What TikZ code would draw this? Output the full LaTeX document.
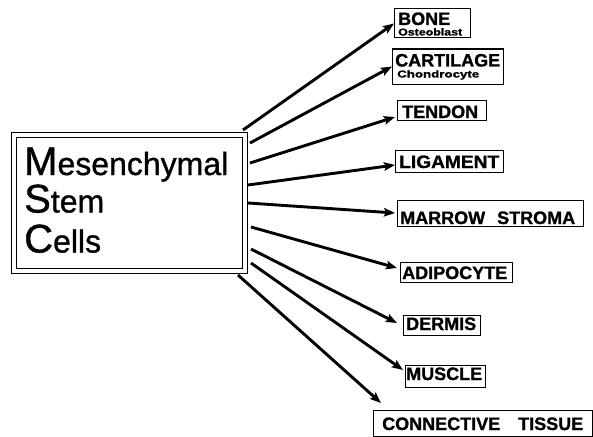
\documentclass[tikz,border=0pt]{standalone}
\usepackage{fontspec}
\usepackage{graphicx}
\setmainfont{Liberation Sans}
\newfontfamily\heavyfont[BoldFeatures={FakeBold=1.2}]{Liberation Sans}
\newfontfamily\mscfont[FakeBold=1]{Liberation Sans}
\usetikzlibrary{arrows.meta}
\newcommand\mscbig{\fontsize{40}{40}\selectfont}
\newcommand\mscsmall{\fontsize{32}{32}\selectfont}
\newcommand\hstretch[2]{\resizebox{#1}{\height}{#2}}
\begin{document}
\begin{tikzpicture}[x=1pt,y=-1pt,
  arr/.style={line width=2.9pt,-{Stealth[length=11pt,width=8.5pt,inset=2pt]}},
  lblbox/.style={draw,line width=1pt,rectangle,inner sep=0pt,outer sep=0pt},
  lbltxt/.style={inner sep=0pt,anchor=base west,font=\heavyfont\bfseries\fontsize{18}{18}\selectfont},
  subtxt/.style={inner sep=0pt,anchor=base west,font=\heavyfont\bfseries\fontsize{10}{11}\selectfont},
  msctxt/.style={inner sep=0pt,anchor=base west,font=\mscfont}]
\useasboundingbox (0,0) rectangle (593,436);

% central double frame
\node[draw,double,line width=0.9pt,double distance=4.6pt,rectangle,
      minimum width=231,minimum height=136,inner sep=0pt,outer sep=0pt] (msc) at (129.5,203) {};
\node[msctxt] (m1) at (24,175) {\mscbig M\mscsmall esenchymal};
\node[msctxt] (m2) at (24,212.5) {\mscbig S\mscsmall tem};
\node[msctxt] (m3) at (24,252.5) {\mscbig C\mscsmall ells};

% target boxes
\node[lblbox,minimum width=76,minimum height=29] (bone) at (432,23.5) {};
\node[lbltxt] (bonet) at (398,25) {BONE};
\node[subtxt] (bones) at (398,35.5) {\hstretch{64pt}{Osteoblast}};

\node[lblbox,minimum width=111,minimum height=35] (cart) at (447.5,66.5) {};
\node[lbltxt] (cartt) at (395,66.5) {CARTILAGE};
\node[subtxt] (carts) at (397,77.5) {\hstretch{82pt}{Chondrocyte}};

\node[lblbox,minimum width=89,minimum height=20] (tendon) at (441.5,110) {};
\node[lbltxt] (tendont) at (402,118) {TENDON};

\node[lblbox,minimum width=108,minimum height=22] (lig) at (449,161) {};
\node[lbltxt] (ligt) at (399,168) {\hstretch{100pt}{LIGAMENT}};

\node[lblbox,minimum width=186,minimum height=26] (marrow) at (490,213) {};
\node[lbltxt] (marrowt) at (400,224) {MARROW\hspace{7pt} STROMA};

\node[lblbox,minimum width=112,minimum height=20] (adipo) at (456,272) {};
\node[lbltxt] (adipot) at (402,279) {ADIPOCYTE};

\node[lblbox,minimum width=77,minimum height=20] (dermis) at (441.5,325) {};
\node[lbltxt] (dermist) at (406,330) {DERMIS};

\node[lblbox,minimum width=80,minimum height=22] (muscle) at (445,376) {};
\node[lbltxt] (musclet) at (406,380) {MUSCLE};

\node[lblbox,minimum width=219,minimum height=26] (conn) at (482.5,423) {};
\node[lbltxt] (connt) at (382,430) {CONNECTIVE\hspace{13pt} TISSUE};

% connectors
\draw[arr] ([shift={(-2,-73)}]msc.east) -- (bone.west);
\draw[arr] ([shift={(5,-60)}]msc.east) -- (cart.west);
\draw[arr] ([shift={(5,-40)}]msc.east) -- ([shift={(-2,7)}]tendon.west);
\draw[arr] ([shift={(3,-18)}]msc.east) -- ([shift={(0,4)}]lig.west);
\draw[arr] ([shift={(3,0)}]msc.east) -- ([shift={(-2,0)}]marrow.west);
\draw[arr] ([shift={(6,24)}]msc.east) -- ([shift={(-3,-4)}]adipo.west);
\draw[arr] ([shift={(6,46)}]msc.east) -- ([shift={(-6,-2)}]dermis.west);
\draw[arr] ([shift={(6,60)}]msc.east) -- ([shift={(-2,-6)}]muscle.west);
\draw[arr] ([shift={(-7,72)}]msc.east) -- ([shift={(8,-7)}]conn.north west);
\end{tikzpicture}
\end{document}
